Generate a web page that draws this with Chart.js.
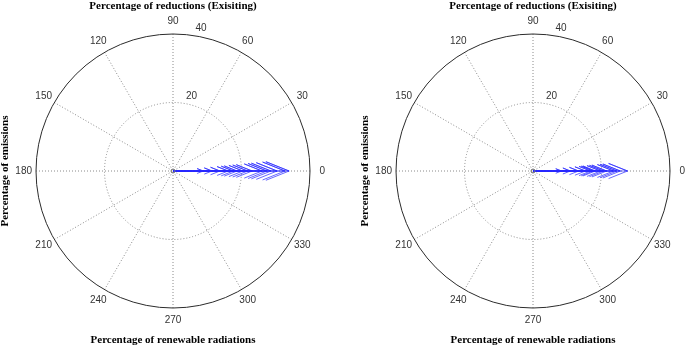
<!DOCTYPE html>
<html>
<head>
<meta charset="utf-8">
<script src="https://cdn.jsdelivr.net/npm/chart.js@4.4.0/dist/chart.umd.min.js"></script>
<style>
  body { margin: 0; background: #fff; }
  #wrap { position: relative; width: 685px; height: 354px; overflow: hidden; }
  canvas { position: absolute; top: 0; }
</style>
</head>
<body>
<div id="wrap">
  <canvas id="chartLeft" width="345" height="354" style="left:0"></canvas>
  <canvas id="chartRight" width="355" height="354" style="left:330px"></canvas>
</div>
<script>
'use strict'

// arrow lengths (all arrows point at 0 degrees)
const leftValues = [8.8, 11.4, 13.7, 16.1, 17.6, 18.7, 20.4, 21.8, 23.1, 26.0, 27.4, 28.6, 30.4, 32.7, 33.9]
const rightValues = [8.3, 10.9, 13.3, 15.3, 16.8, 17.6, 18.2, 19.7, 20.6, 21.5, 23.5, 24.5, 25.5, 27.6]

const rTicks = [20, 40]
const angleTicks = [0, 30, 60, 90, 120, 150, 180, 210, 240, 270, 300, 330]

const topTitle = 'Percentage of reductions (Exisiting)'
const bottomTitle = 'Percentage of renewable radiations'
const sideTitle = 'Percentage of emissions'

const rMax = 40

// compass style arrow: shaft plus a head going back to 0.8r, +-0.08r
function arrowDataset(r) {
  return {
    data: [
      { x: 0, y: 0 },
      { x: r, y: 0 },
      { x: 0.8 * r, y: 0.08 * r },
      { x: r, y: 0 },
      { x: 0.8 * r, y: -0.08 * r }
    ],
    showLine: true,
    borderColor: 'rgba(40,40,255,0.7)',
    borderWidth: 1,
    pointRadius: 0,
    fill: false,
    tension: 0
  }
}

// polar grid, labels and titles drawn with the chart's own scales
const polarGrid = {
  id: 'polarGrid',
  beforeDatasetsDraw(chart) {
    const ctx = chart.ctx
    const xs = chart.scales.x
    const ys = chart.scales.y
    const cx = xs.getPixelForValue(0)
    const cy = ys.getPixelForValue(0)
    const px = v => xs.getPixelForValue(v) - cx

    ctx.save()
    // spokes
    ctx.strokeStyle = '#8a8a8a'
    ctx.lineWidth = 1
    ctx.setLineDash([1, 2])
    angleTicks.forEach(a => {
      if (a >= 180) return
      const t = a * Math.PI / 180
      const R = px(rMax)
      ctx.beginPath()
      ctx.moveTo(cx - R * Math.cos(t), cy + R * Math.sin(t))
      ctx.lineTo(cx + R * Math.cos(t), cy - R * Math.sin(t))
      ctx.stroke()
    })
    // inner rings dotted, outer one solid
    rTicks.forEach(r => {
      ctx.beginPath()
      if (r === rMax) {
        ctx.setLineDash([])
        ctx.strokeStyle = '#2b2b2b'
      } else {
        ctx.setLineDash([1, 2])
        ctx.strokeStyle = '#8a8a8a'
      }
      ctx.arc(cx, cy, px(r), 0, Math.PI * 2)
      ctx.stroke()
    })
    ctx.setLineDash([])

    // angle labels
    ctx.fillStyle = '#333'
    ctx.font = '10px "Liberation Sans", Arial, sans-serif'
    ctx.textAlign = 'center'
    ctx.textBaseline = 'middle'
    angleTicks.forEach(a => {
      const t = a * Math.PI / 180
      const R = px(rMax * 1.09)
      ctx.fillText(String(a), cx + R * Math.cos(t), cy - R * Math.sin(t))
    })
    // radius labels near 82 degrees
    const t82 = 82 * Math.PI / 180
    ctx.textAlign = 'left'
    ctx.textBaseline = 'bottom'
    rTicks.forEach(r => {
      const R = px(r + 1)
      ctx.fillText(String(r), cx + R * Math.cos(t82) + 3, cy - R * Math.sin(t82) + 1)
    })

    // titles
    ctx.fillStyle = '#000'
    ctx.font = 'bold 11px "Liberation Serif", "Times New Roman", serif'
    ctx.textAlign = 'center'
    ctx.textBaseline = 'middle'
    ctx.fillText(topTitle, cx, 6)
    ctx.fillText(bottomTitle, cx, 340)
    ctx.translate(cx - 168, cy)
    ctx.rotate(-Math.PI / 2)
    ctx.fillText(sideTitle, 0, 0)
    ctx.restore()
  },
  afterDatasetsDraw(chart) {
    // small ring at the origin
    const ctx = chart.ctx
    const cx = chart.scales.x.getPixelForValue(0)
    const cy = chart.scales.y.getPixelForValue(0)
    ctx.save()
    ctx.strokeStyle = '#777'
    ctx.lineWidth = 1
    ctx.beginPath()
    ctx.arc(cx, cy, 2, 0, Math.PI * 2)
    ctx.stroke()
    ctx.restore()
  }
}

function makeCompass(canvasId, values, padLeft, padRight) {
  return new Chart(document.getElementById(canvasId), {
    type: 'scatter',
    data: { datasets: values.map(arrowDataset) },
    options: {
      responsive: false,
      animation: false,
      layout: { padding: { left: padLeft, right: padRight, top: 34, bottom: 46 } },
      plugins: {
        legend: { display: false },
        tooltip: { enabled: false }
      },
      scales: {
        x: { type: 'linear', min: -rMax, max: rMax, display: false },
        y: { type: 'linear', min: -rMax, max: rMax, display: false }
      }
    },
    plugins: [polarGrid]
  })
}

const chartLeft = makeCompass('chartLeft', leftValues, 36, 35)
const chartRight = makeCompass('chartRight', rightValues, 66, 15)
</script>
</body>
</html>
